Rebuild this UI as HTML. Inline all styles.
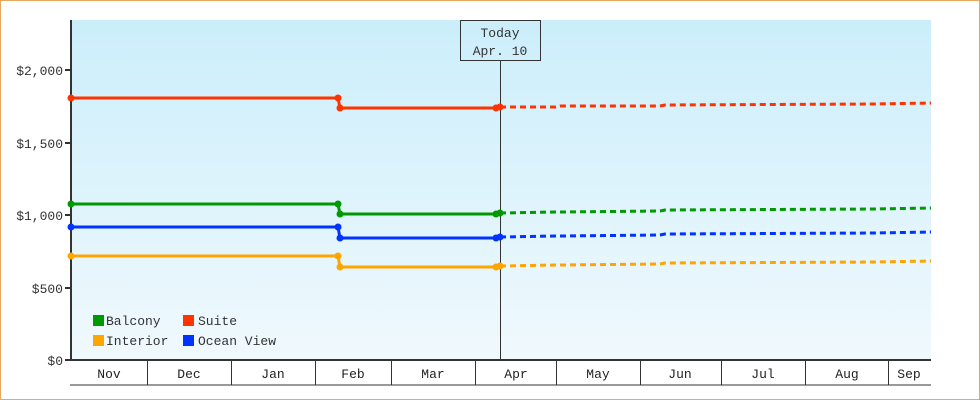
<!DOCTYPE html>
<html><head><style>
body{margin:0;background:#fff}
svg{display:block;font-family:"Liberation Mono",monospace}
</style></head><body>
<svg width="980" height="400" viewBox="0 0 980 400">
<defs><linearGradient id="g" x1="0" y1="0" x2="0" y2="1"><stop offset="0" stop-color="#cbeefb"/><stop offset="1" stop-color="#f0f9fd"/></linearGradient></defs>
<rect x="0.5" y="0.5" width="979" height="399" fill="#fff" stroke="#e8a860"/>
<rect x="71" y="20" width="860" height="340" fill="url(#g)"/>
<g font-size="13" fill="#333" text-anchor="end">
<text x="63" y="75">$2,000</text><text x="63" y="148">$1,500</text><text x="63" y="220">$1,000</text><text x="63" y="293">$500</text><text x="63" y="365">$0</text>
</g>
<g stroke="#333" stroke-width="2"><line x1="65" y1="70" x2="71" y2="70"/><line x1="65" y1="143" x2="71" y2="143"/><line x1="65" y1="215" x2="71" y2="215"/><line x1="65" y1="288" x2="71" y2="288"/><line x1="65" y1="360" x2="71" y2="360"/></g>
<line x1="71" y1="20" x2="71" y2="361" stroke="#333" stroke-width="2"/>
<line x1="70" y1="360" x2="931" y2="360" stroke="#333" stroke-width="2"/>
<line x1="70" y1="385" x2="931" y2="385" stroke="#333" stroke-width="1"/>
<g stroke="#333" stroke-width="1"><line x1="147.5" y1="360" x2="147.5" y2="385"/><line x1="231.5" y1="360" x2="231.5" y2="385"/><line x1="315.5" y1="360" x2="315.5" y2="385"/><line x1="391.5" y1="360" x2="391.5" y2="385"/><line x1="475.5" y1="360" x2="475.5" y2="385"/><line x1="556.5" y1="360" x2="556.5" y2="385"/><line x1="640.5" y1="360" x2="640.5" y2="385"/><line x1="721.5" y1="360" x2="721.5" y2="385"/><line x1="805.5" y1="360" x2="805.5" y2="385"/><line x1="888.5" y1="360" x2="888.5" y2="385"/></g>
<g font-size="13" fill="#222" text-anchor="middle">
<text x="109" y="378">Nov</text><text x="189" y="378">Dec</text><text x="273" y="378">Jan</text><text x="353" y="378">Feb</text><text x="433" y="378">Mar</text><text x="516" y="378">Apr</text><text x="598" y="378">May</text><text x="680" y="378">Jun</text><text x="763" y="378">Jul</text><text x="847" y="378">Aug</text><text x="909" y="378">Sep</text>
</g>
<line x1="500.5" y1="60" x2="500.5" y2="360" stroke="#333"/>
<rect x="460.5" y="20.5" width="80" height="40" fill="none" stroke="#333"/>
<g font-size="13" fill="#333" text-anchor="middle"><text x="500" y="37">Today</text><text x="500" y="55">Apr. 10</text></g>
<g stroke-width="3" fill="none">
<g stroke="#ff3300"><polyline points="70,98 338,98 340,108 497,108"/><polyline stroke-dasharray="6,4" points="500,107 555,107 560,106 660,106 665,105 875,104 931,103"/></g>
<g stroke="#009900"><polyline points="70,204 338,204 340,214 497,214"/><polyline stroke-dasharray="6,4" points="500,213 555,212 560,212 660,211 665,210 875,209 931,208"/></g>
<g stroke="#0033ff"><polyline points="70,227 338,227 340,238 497,238"/><polyline stroke-dasharray="6,4" points="500,237 555,236 560,236 660,235 665,234 875,233 931,232"/></g>
<g stroke="#ffa500"><polyline points="70,256 338,256 340,267 497,267"/><polyline stroke-dasharray="6,4" points="500,266 555,265 560,265 660,264 665,263 875,262 931,261"/></g>
</g>
<g fill="#ff3300"><circle cx="71" cy="98" r="3.5"/><circle cx="338" cy="98" r="3.5"/><circle cx="340" cy="108" r="3.5"/><circle cx="496" cy="108" r="3.5"/><circle cx="500" cy="107" r="3.5"/></g>
<g fill="#009900"><circle cx="71" cy="204" r="3.5"/><circle cx="338" cy="204" r="3.5"/><circle cx="340" cy="214" r="3.5"/><circle cx="496" cy="214" r="3.5"/><circle cx="500" cy="213" r="3.5"/></g>
<g fill="#0033ff"><circle cx="71" cy="227" r="3.5"/><circle cx="338" cy="227" r="3.5"/><circle cx="340" cy="238" r="3.5"/><circle cx="496" cy="238" r="3.5"/><circle cx="500" cy="237" r="3.5"/></g>
<g fill="#ffa500"><circle cx="71" cy="256" r="3.5"/><circle cx="338" cy="256" r="3.5"/><circle cx="340" cy="267" r="3.5"/><circle cx="496" cy="267" r="3.5"/><circle cx="500" cy="266" r="3.5"/></g>
<rect x="93" y="315" width="11" height="11" fill="#009900"/>
<rect x="183" y="315" width="11" height="11" fill="#ff3300"/>
<rect x="93" y="335" width="11" height="11" fill="#ffa500"/>
<rect x="183" y="335" width="11" height="11" fill="#0033ff"/>
<g font-size="13" fill="#333"><text x="106" y="325">Balcony</text><text x="198" y="325">Suite</text><text x="106" y="345">Interior</text><text x="198" y="345">Ocean View</text></g>
</svg>
</body></html>
